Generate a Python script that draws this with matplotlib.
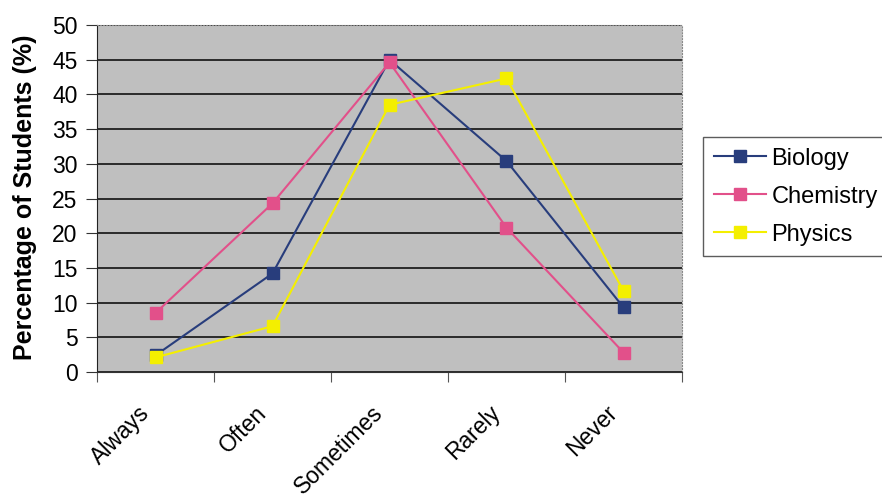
import matplotlib
matplotlib.use("Agg")
import numpy as np
from matplotlib import pyplot as plt
from matplotlib.transforms import ScaledTranslation

categories = ["Always", "Often", "Sometimes", "Rarely", "Never"]
biology = [2.4, 14.2, 45.0, 30.4, 9.3]
chemistry = [8.5, 24.3, 44.6, 20.8, 2.8]
physics = [2.1, 6.6, 38.5, 42.3, 11.7]
yticks = list(range(0, 55, 5))

plt.rcParams['font.family'] = ['Liberation Sans', 'DejaVu Sans']

fig = plt.figure(figsize=(8.82, 5.01), dpi=100)
ax = fig.add_axes([97/882, 1 - 372/501, 585/882, 347/501])
ax.set_facecolor('#bfbfbf')

x = np.arange(len(categories))
series = [
    ("Biology", biology, '#283d7c'),
    ("Chemistry", chemistry, '#e2508a'),
    ("Physics", physics, '#f4ef00'),
]
for name, vals, col in series:
    ax.plot(x, vals, color=col, lw=1.5, marker='s', ms=8, mec=col, mfc=col, label=name)

ax.set_xlim(-0.5, len(categories) - 0.5)
ax.set_ylim(0, 50)
ax.set_yticks(yticks)
ax.set_yticklabels([str(t) for t in yticks], fontsize=16.5)
ax.yaxis.grid(True, color='#111111', lw=1.2)
ax.set_axisbelow(True)

# category ticks sit between the groups
ax.set_xticks(np.arange(-0.5, len(categories), 1.0))
ax.set_xticklabels([])
ax.tick_params(axis='x', which='major', length=7, color='#555555')
ax.tick_params(axis='y', length=8, color='#333333', pad=6)

# rotated category labels, nudged left/down like the excel original
lbl_tr = ax.get_xaxis_transform() + ScaledTranslation(-0.18, -0.29, fig.dpi_scale_trans)
for i, cat in enumerate(categories):
    ax.text(i, 0, cat, transform=lbl_tr, rotation=45, ha='right', va='top',
            rotation_mode='anchor', fontsize=16.5)

for side in ['top', 'right']:
    ax.spines[side].set_color('#888888')
    ax.spines[side].set_linestyle(':')
ax.spines['left'].set_color('#222222')
ax.spines['bottom'].set_color('#333333')

ax.set_ylabel("Percentage of Students (%)", fontsize=18, fontweight='bold')
ax.yaxis.set_label_coords(37/882, 1 - 197/501, transform=fig.transFigure)

leg = fig.legend(loc='upper left', bbox_to_anchor=(703/882, 1 - 137/501), fontsize=17, frameon=True,
                 fancybox=False, edgecolor='#333333', handlelength=2.2, borderpad=0.45,
                 labelspacing=0.68, handletextpad=0.25, borderaxespad=0)
leg.get_frame().set_linewidth(1.0)

fig.savefig("out.png", dpi=100)
